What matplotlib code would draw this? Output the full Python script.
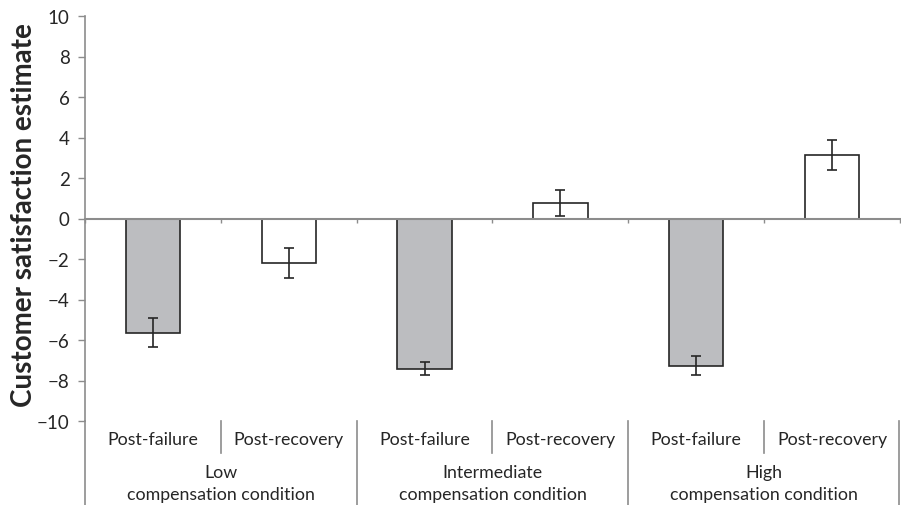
import matplotlib.pyplot as plt
import matplotlib.transforms as mtransforms
import numpy as np

# Data
conditions = ['Low\ncompensation condition',
              'Intermediate\ncompensation condition',
              'High\ncompensation condition']
phases = ['Post-failure', 'Post-recovery']
means = [-5.63, -2.19, -7.42, 0.76, -7.26, 3.15]
errors = [0.72, 0.74, 0.31, 0.65, 0.48, 0.75]
fills = ['#bcbdc0', 'white', '#bcbdc0', 'white', '#bcbdc0', 'white']

plt.rcParams['font.family'] = ['Lato', 'DejaVu Sans']
text_col = '#262626'
line_col = '#8c8c8c'

fig = plt.figure(figsize=(9.01, 5.06), dpi=100)
ax = fig.add_axes([85 / 901, 1 - 422 / 506, 815 / 901, 405 / 506])

x = np.arange(len(means))
ax.bar(x, means, width=0.4, color=fills, edgecolor=text_col, linewidth=1.2,
       zorder=2)
ax.errorbar(x, means, yerr=errors, fmt='none', ecolor=text_col,
            elinewidth=1.2, capsize=3.5, capthick=1.2, zorder=3)

ax.set_xlim(-0.5, 5.5)
ax.set_ylim(-10, 10)
ax.set_yticks(np.arange(-10, 11, 2))
ax.tick_params(axis='y', colors=line_col, labelcolor=text_col, length=5,
               width=1, pad=6, labelsize=13.5)

# x axis sits at zero with small ticks between bars
for side in ['top', 'right']:
    ax.spines[side].set_visible(False)
ax.spines['bottom'].set_position(('data', 0))
ax.spines['bottom'].set_color(line_col)
ax.spines['bottom'].set_linewidth(1.5)
ax.spines['bottom'].set_zorder(4)
ax.spines['left'].set_color(line_col)
ax.spines['left'].set_linewidth(1.2)
ax.set_xticks(np.arange(-0.5, 6, 1))
ax.set_xticklabels([])
ax.tick_params(axis='x', colors=line_col, length=3, width=1,
               direction='out')

# category table underneath
trans = mtransforms.blended_transform_factory(ax.transData, fig.transFigure)
for i, label in enumerate(phases * 3):
    ax.text(i, 1 - 440 / 506, label, transform=trans, ha='center',
            va='center', fontsize=12.8, color=text_col)
for g, label in enumerate(conditions):
    ax.text(2 * g + 0.5, 1 - 484 / 506, label, transform=trans, ha='center',
            va='center', fontsize=12.8, color=text_col, linespacing=1.4)
for xs in [0.5, 2.5, 4.5]:
    ax.plot([xs, xs], [1 - 422 / 506, 1 - 454 / 506], transform=trans,
            color=line_col, lw=1.2, clip_on=False)
for xs in [-0.5, 1.5, 3.5, 5.49]:
    ax.plot([xs, xs], [1 - 422 / 506, 0], transform=trans,
            color=line_col, lw=1.2, clip_on=False)

fig.text(24 / 901, 1 - 215 / 506, 'Customer satisfaction estimate',
         rotation=90, ha='center', va='center', fontsize=20,
         fontweight='bold', color=text_col)

fig.savefig('out.png', dpi=100)
